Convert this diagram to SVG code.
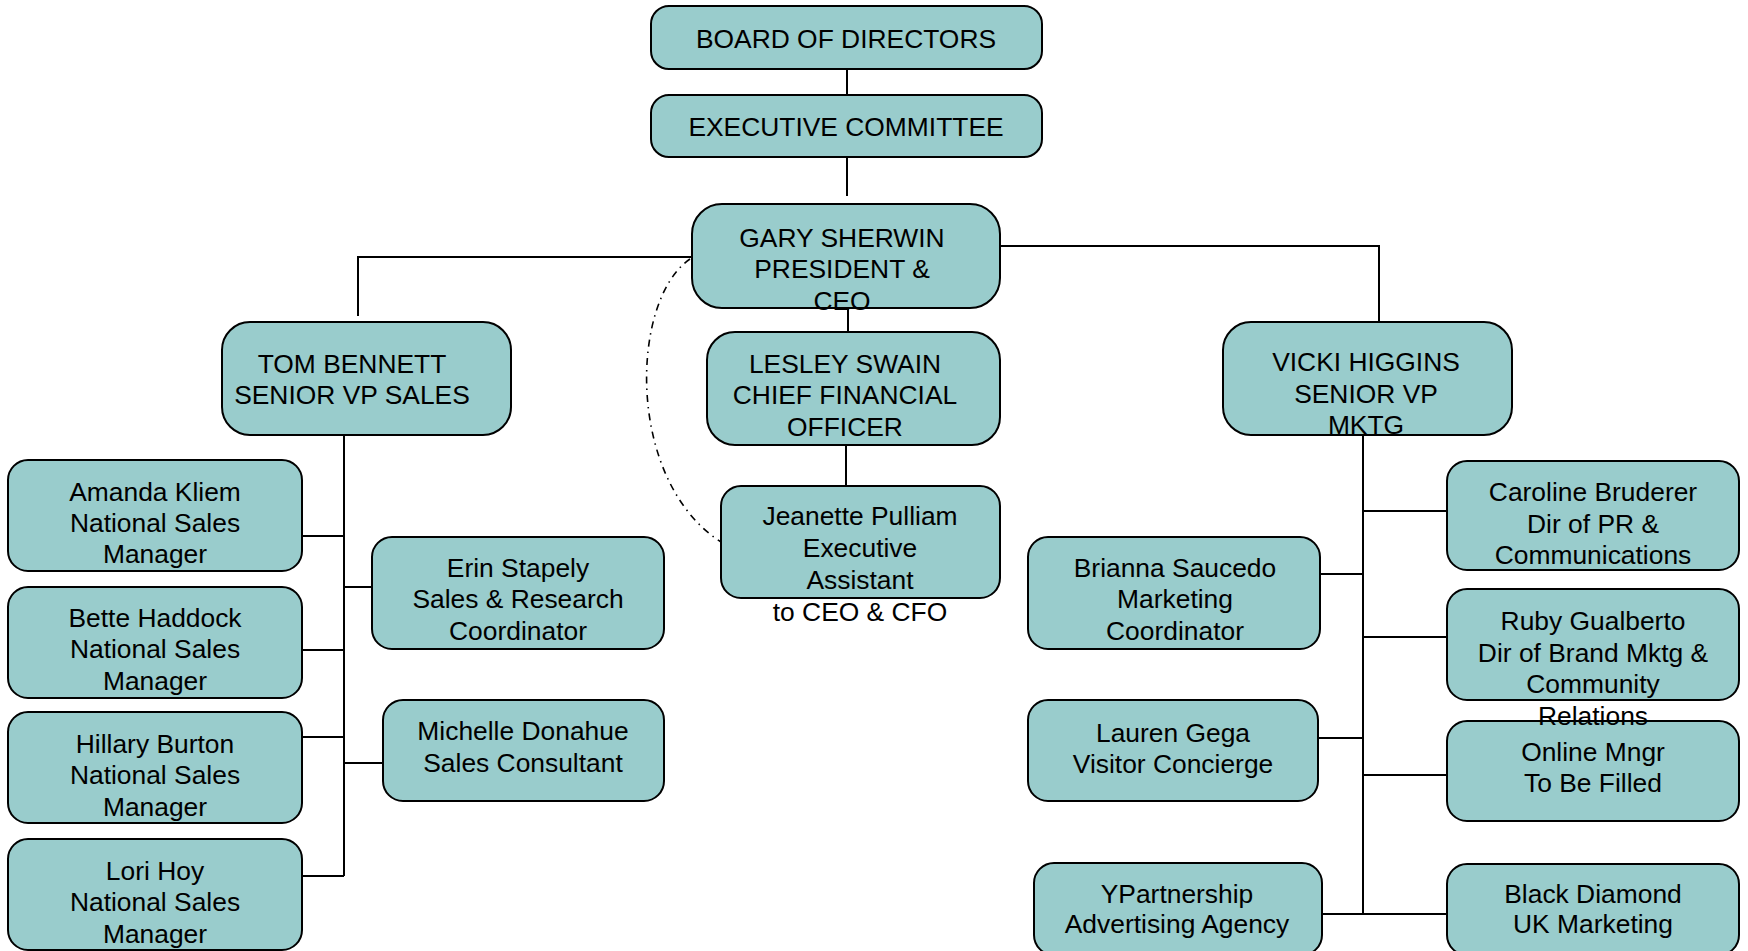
<svg xmlns="http://www.w3.org/2000/svg" width="1748" height="951" viewBox="0 0 1748 951">
<style>
.box{fill:#99cccc;stroke:#000;stroke-width:2}
.t{font-family:"Liberation Sans",Arial,sans-serif;font-size:26.4px;fill:#000;text-anchor:middle}
.c{fill:none;stroke:#000;stroke-width:2}
.dd{fill:none;stroke:#000;stroke-width:1.6;stroke-dasharray:7 5 1.5 5}
</style>
<rect width="1748" height="951" fill="#fff"/>
<g id="connectors">
<path class="c" d="M847 69V95"/>
<path class="c" d="M847 157V196"/>
<path class="c" d="M692 257H358V316"/>
<path class="c" d="M1000 246H1379V322"/>
<path class="c" d="M848 308V332"/>
<path class="c" d="M846 445V486"/>
<path class="c" d="M344 435V876"/>
<path class="c" d="M302 536H344M302 650H344M302 737H344M302 876H344M344 587H372M344 763H383"/>
<path class="c" d="M1363 435V914"/>
<path class="c" d="M1363 511H1447M1320 574H1363M1363 637H1447M1318 738H1363M1363 775H1447M1322 914H1447"/>
<path class="dd" d="M690 259C630 300 625 480 721 542"/>
</g>
<g id="board"><rect class="box" x="651" y="6" width="391" height="63" rx="18"/><text class="t" x="846" y="48">BOARD OF DIRECTORS</text></g>
<g id="exec"><rect class="box" x="651" y="95" width="391" height="62" rx="18"/><text class="t" x="846" y="136">EXECUTIVE COMMITTEE</text></g>
<g id="gary"><rect class="box" x="692" y="204" width="308" height="104" rx="30"/><text class="t"><tspan x="842" y="247">GARY SHERWIN</tspan><tspan x="842" y="278">PRESIDENT &amp;</tspan><tspan x="842" y="310">CEO</tspan></text></g>
<g id="tom"><rect class="box" x="222" y="322" width="289" height="113" rx="28"/><text class="t"><tspan x="352" y="373">TOM BENNETT</tspan><tspan x="352" y="404">SENIOR VP SALES</tspan></text></g>
<g id="lesley"><rect class="box" x="707" y="332" width="293" height="113" rx="28"/><text class="t"><tspan x="845" y="373">LESLEY SWAIN</tspan><tspan x="845" y="404">CHIEF FINANCIAL</tspan><tspan x="845" y="436">OFFICER</tspan></text></g>
<g id="vicki"><rect class="box" x="1223" y="322" width="289" height="113" rx="28"/><text class="t"><tspan x="1366" y="371">VICKI HIGGINS</tspan><tspan x="1366" y="403">SENIOR VP</tspan><tspan x="1366" y="434">MKTG</tspan></text></g>
<g id="jeanette"><rect class="box" x="721" y="486" width="279" height="112" rx="20"/><text class="t"><tspan x="860" y="525">Jeanette Pulliam</tspan><tspan x="860" y="557">Executive</tspan><tspan x="860" y="589">Assistant</tspan><tspan x="860" y="621">to CEO &amp; CFO</tspan></text></g>
<g id="amanda"><rect class="box" x="8" y="460" width="294" height="111" rx="20"/><text class="t"><tspan x="155" y="501">Amanda Kliem</tspan><tspan x="155" y="532">National Sales</tspan><tspan x="155" y="563">Manager</tspan></text></g>
<g id="bette"><rect class="box" x="8" y="587" width="294" height="111" rx="20"/><text class="t"><tspan x="155" y="627">Bette Haddock</tspan><tspan x="155" y="658">National Sales</tspan><tspan x="155" y="690">Manager</tspan></text></g>
<g id="hillary"><rect class="box" x="8" y="712" width="294" height="111" rx="20"/><text class="t"><tspan x="155" y="753">Hillary Burton</tspan><tspan x="155" y="784">National Sales</tspan><tspan x="155" y="816">Manager</tspan></text></g>
<g id="lori"><rect class="box" x="8" y="839" width="294" height="111" rx="20"/><text class="t"><tspan x="155" y="880">Lori Hoy</tspan><tspan x="155" y="911">National Sales</tspan><tspan x="155" y="943">Manager</tspan></text></g>
<g id="erin"><rect class="box" x="372" y="537" width="292" height="112" rx="20"/><text class="t"><tspan x="518" y="577">Erin Stapely</tspan><tspan x="518" y="608">Sales &amp; Research</tspan><tspan x="518" y="640">Coordinator</tspan></text></g>
<g id="michelle"><rect class="box" x="383" y="700" width="281" height="101" rx="20"/><text class="t"><tspan x="523" y="740">Michelle Donahue</tspan><tspan x="523" y="772">Sales Consultant</tspan></text></g>
<g id="caroline"><rect class="box" x="1447" y="461" width="292" height="109" rx="20"/><text class="t"><tspan x="1593" y="501">Caroline Bruderer</tspan><tspan x="1593" y="533">Dir of PR &amp;</tspan><tspan x="1593" y="564">Communications</tspan></text></g>
<g id="brianna"><rect class="box" x="1028" y="537" width="292" height="112" rx="20"/><text class="t"><tspan x="1175" y="577">Brianna Saucedo</tspan><tspan x="1175" y="608">Marketing</tspan><tspan x="1175" y="640">Coordinator</tspan></text></g>
<g id="online"><rect class="box" x="1447" y="721" width="292" height="100" rx="20"/><text class="t"><tspan x="1593" y="761">Online Mngr</tspan><tspan x="1593" y="792">To Be Filled</tspan></text></g>
<g id="ruby"><rect class="box" x="1447" y="589" width="292" height="111" rx="20"/><text class="t"><tspan x="1593" y="630">Ruby Gualberto</tspan><tspan x="1593" y="662">Dir of Brand Mktg &amp;</tspan><tspan x="1593" y="693">Community</tspan><tspan x="1593" y="725">Relations</tspan></text></g>
<g id="lauren"><rect class="box" x="1028" y="700" width="290" height="101" rx="20"/><text class="t"><tspan x="1173" y="742">Lauren Gega</tspan><tspan x="1173" y="773">Visitor Concierge</tspan></text></g>
<g id="ypartnership"><rect class="box" x="1034" y="863" width="288" height="92" rx="20"/><text class="t"><tspan x="1177" y="903">YPartnership</tspan><tspan x="1177" y="933">Advertising Agency</tspan></text></g>
<g id="blackdiamond"><rect class="box" x="1447" y="864" width="292" height="91" rx="20"/><text class="t"><tspan x="1593" y="903">Black Diamond</tspan><tspan x="1593" y="933">UK Marketing</tspan></text></g>
</svg>
